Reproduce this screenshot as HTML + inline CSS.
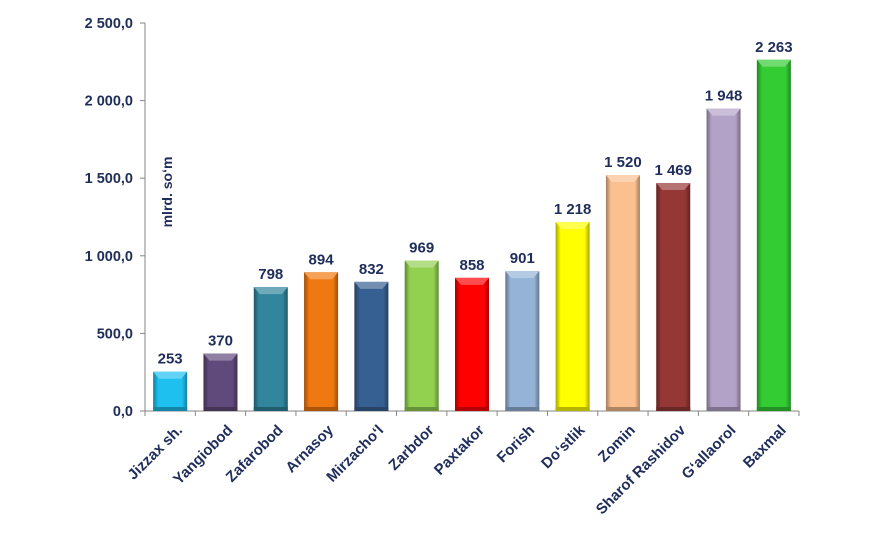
<!DOCTYPE html>
<html><head><meta charset="utf-8">
<style>
body{margin:0;background:#fff;}
svg{display:block;font-family:"Liberation Sans",Arial,sans-serif;}
</style></head>
<body>
<svg id="chart" width="879" height="543" viewBox="0 0 879 543" xmlns="http://www.w3.org/2000/svg">
<defs></defs>
</svg>
<script>
const categories=["Jizzax sh.","Yangiobod","Zafarobod","Arnasoy","Mirzacho‘l","Zarbdor","Paxtakor","Forish","Do‘stlik","Zomin","Sharof Rashidov","G‘allaorol","Baxmal"];
const values=[253,370,798,894,832,969,858,901,1218,1520,1469,1948,2263];
const valueLabels=["253","370","798","894","832","969","858","901","1 218","1 520","1 469","1 948","2 263"];
const colors=["#1ec0f0","#604a7b","#31859c","#f07810","#376092","#92d050","#ff0000","#95b3d7","#ffff00","#fac090","#953735","#b3a2c7","#33cc33"];
const yTicks=[0,500,1000,1500,2000,2500];
const yTickLabels=["0,0","500,0","1 000,0","1 500,0","2 000,0","2 500,0"];

const svg=document.getElementById('chart');
const NS="http://www.w3.org/2000/svg";
const x0=145,x1=799,y0=411,y1=23,yMax=2500;
const step=(x1-x0)/categories.length;
const bw=34;
function y(v){return y0-(v/yMax)*(y0-y1);}
function xc(i){return x0+step*(i+0.5);}
function mk(tag,attrs,parent){const e=document.createElementNS(NS,tag);for(const k in attrs)e.setAttribute(k,attrs[k]);(parent||svg).appendChild(e);return e;}
function shade(hex,f){let n=parseInt(hex.slice(1),16);let r=n>>16,g=(n>>8)&255,b=n&255;
 const m=c=>Math.max(0,Math.min(255,Math.round(f<0?c*(1+f):c+(255-c)*f)));
 return "rgb("+m(r)+","+m(g)+","+m(b)+")";}
const defs=svg.querySelector('defs');
const ya=mk('line',{x1:x0,y1:y1,x2:x0,y2:y0,stroke:'#868686','stroke-width':1});


const xa=mk('line',{x1:x0,y1:y0,x2:x1,y2:y0,stroke:'#868686','stroke-width':1});


yTicks.forEach((t,i)=>{
 mk('line',{x1:x0-5,y1:y(t),x2:x0,y2:y(t),stroke:'#868686'});
 const tx=mk('text',{x:x0-12,y:y(t)+5,'text-anchor':'end','font-size':14.5,'font-weight':'bold',fill:'#1f2d5a'});
 tx.textContent=yTickLabels[i];
 
 
});
for(let i=0;i<=categories.length;i++){mk('line',{x1:x0+step*i,y1:y0,x2:x0+step*i,y2:y0+5,stroke:'#868686'});}
const yt=mk('text',{x:0,y:0,transform:'translate(172,192) rotate(-90)','text-anchor':'middle','font-size':14,'font-weight':'bold',fill:'#1f2d5a'});
yt.textContent="mlrd. so‘m";



values.forEach((v,i)=>{
 const c=colors[i];
 const g=mk('linearGradient',{id:'g'+i,x1:0,y1:0,x2:1,y2:0},defs);
 mk('stop',{offset:'0','stop-color':shade(c,-0.35)},g);
 mk('stop',{offset:'0.15','stop-color':c},g);
 mk('stop',{offset:'0.85','stop-color':c},g);
 mk('stop',{offset:'1','stop-color':shade(c,-0.35)},g);
 const bx=xc(i)-bw/2, by=y(v), h=y0-by;
 const r=mk('rect',{x:bx,y:by,width:bw,height:h,fill:'url(#g'+i+')'});
 
 
 mk('polygon',{points:`${bx},${by} ${bx+bw},${by} ${bx+bw-6},${by+7} ${bx+6},${by+7}`,fill:shade(c,0.3)});
 mk('rect',{x:bx,y:y0-4,width:bw,height:4,fill:shade(c,-0.3)});
 const lt=mk('text',{x:xc(i),y:by-8,'text-anchor':'middle','font-size':15,'font-weight':'bold',fill:'#1f2d5a'});
 lt.textContent=valueLabels[i];
 
 
 const ct=mk('text',{x:0,y:0,transform:`translate(${xc(i)+13},${y0+20}) rotate(-45)`,'text-anchor':'end','font-size':15,'font-weight':'bold',fill:'#1f2d5a'});
 ct.textContent=categories[i];
 
 
});
</script>
</body></html>
